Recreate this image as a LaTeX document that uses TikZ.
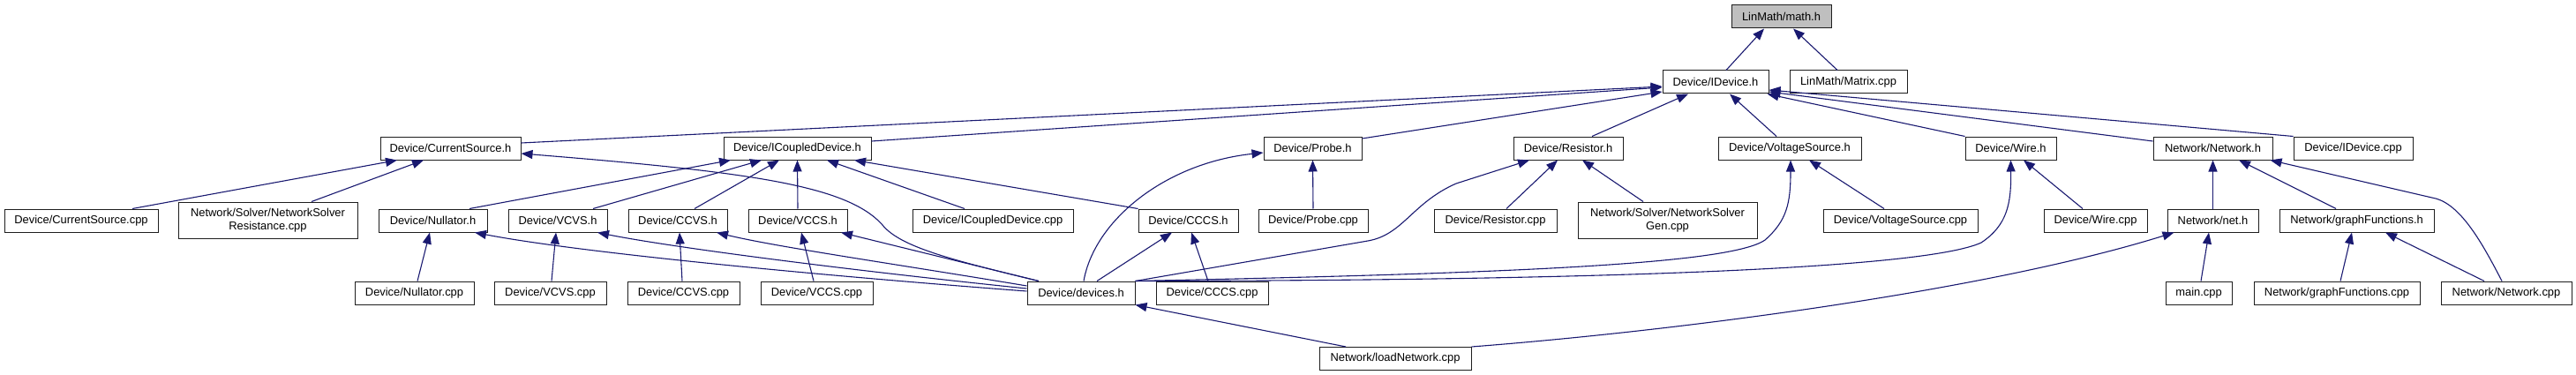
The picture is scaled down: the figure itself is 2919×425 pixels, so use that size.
\documentclass[tikz,border=0pt]{standalone}
\usepackage{fontspec}
\setmainfont{Liberation Sans}
\usetikzlibrary{arrows.meta}
\definecolor{edgecol}{RGB}{25,25,112}
\definecolor{rootfill}{RGB}{191,191,191}
\definecolor{boxline}{RGB}{30,30,30}
\newcommand\doxfont{\fontsize{12.9}{15}\selectfont}
\begin{document}
\begin{tikzpicture}[x=1pt,y=-1pt,
 box/.style={draw=boxline,line width=1pt,fill=white,inner sep=0pt,font=\doxfont,align=center,minimum height=26pt},
 tall/.style={minimum height=41pt},
 edge/.style={draw=edgecol,line width=1.1pt,-{Triangle[length=13pt,width=10pt]}}]
\useasboundingbox (0,0) rectangle (2919,425);
% row 0
\node[box,fill=rootfill,minimum width=113pt] (math) at (2018.5,19) {LinMath/math.h};
% row 1
\node[box,minimum width=120pt] (idev) at (1944,93) {Device/IDevice.h};
\node[box,minimum width=133pt] (matrix) at (2094.5,93) {LinMath/Matrix.cpp};
% row 2
\node[box,minimum width=159pt] (cs) at (510.5,168) {Device/CurrentSource.h};
\node[box,minimum width=167pt] (icd) at (903.5,168) {Device/ICoupledDevice.h};
\node[box,minimum width=111pt] (probe) at (1487.5,168) {Device/Probe.h};
\node[box,minimum width=124pt] (res) at (1777,168) {Device/Resistor.h};
\node[box,minimum width=162pt] (vs) at (2028,168) {Device/VoltageSource.h};
\node[box,minimum width=103pt] (wire) at (2278.5,168) {Device/Wire.h};
\node[box,minimum width=135pt] (netw) at (2507.5,168) {Network/Network.h};
\node[box,minimum width=135pt] (idevcpp) at (2666.5,168) {Device/IDevice.cpp};
% row 3
\node[box,minimum width=174pt] (cscpp) at (92,250) {Device/CurrentSource.cpp};
\node[box,tall,minimum width=203pt] (nsres) at (303.5,249.5) {Network/Solver/NetworkSolver\\Resistance.cpp};
\node[box,minimum width=123pt] (nul) at (490.5,250) {Device/Nullator.h};
\node[box,minimum width=112pt] (vcvs) at (632,250) {Device/VCVS.h};
\node[box,minimum width=112pt] (ccvs) at (768,250) {Device/CCVS.h};
\node[box,minimum width=112pt] (vccs) at (904,250) {Device/VCCS.h};
\node[box,minimum width=182pt] (icdcpp) at (1125,250) {Device/ICoupledDevice.cpp};
\node[box,minimum width=113pt] (ccch) at (1346.5,250) {Device/CCCS.h};
\node[box,minimum width=124pt] (probecpp) at (1488,250) {Device/Probe.cpp};
\node[box,minimum width=139pt] (rescpp) at (1694.5,250) {Device/Resistor.cpp};
\node[box,tall,minimum width=203pt] (nsgen) at (1889.5,249.5) {Network/Solver/NetworkSolver\\Gen.cpp};
\node[box,minimum width=175pt] (vscpp) at (2153.5,250) {Device/VoltageSource.cpp};
\node[box,minimum width=117pt] (wirecpp) at (2374.5,250) {Device/Wire.cpp};
\node[box,minimum width=103pt] (neth) at (2507.5,250) {Network/net.h};
\node[box,minimum width=175pt] (gfh) at (2670.5,250) {Network/graphFunctions.h};
% row 4
\node[box,minimum width=135pt] (nulcpp) at (469.5,332) {Device/Nullator.cpp};
\node[box,minimum width=127pt] (vcvscpp) at (623.5,332) {Device/VCVS.cpp};
\node[box,minimum width=127pt] (ccvscpp) at (774.5,332) {Device/CCVS.cpp};
\node[box,minimum width=127pt] (vccscpp) at (925.5,332) {Device/VCCS.cpp};
\node[box,minimum width=122pt] (dev) at (1225,332) {Device/devices.h};
\node[box,minimum width=127pt] (cccscpp) at (1373.5,332) {Device/CCCS.cpp};
\node[box,minimum width=75pt] (maincpp) at (2491.5,332) {main.cpp};
\node[box,minimum width=188pt] (gfcpp) at (2648,332) {Network/graphFunctions.cpp};
\node[box,minimum width=148pt] (netcpp) at (2840,332) {Network/Network.cpp};
% row 5
\node[box,minimum width=172pt] (load) at (1581,406.5) {Network/loadNetwork.cpp};
% edges to math.h
\draw[edge] ([xshift=12pt]idev.north) -- ([xshift=-19.5pt]math.south);
\draw[edge] ([xshift=-12.5pt]matrix.north) -- ([xshift=13.5pt]math.south);
% edges to IDevice.h
\draw[edge] ([yshift=6pt]cs.east) -- ([yshift=-5pt]idev.west);
\draw[edge] ([yshift=8pt]icd.east) -- ([yshift=-6pt]idev.west);
\draw[edge] ([yshift=11pt]probe.east) -- ([yshift=-11pt]idev.west);
\draw[edge] ([xshift=27pt]res.north) -- ([xshift=-31pt]idev.south);
\draw[edge] ([xshift=-15pt]vs.north) -- ([xshift=16pt]idev.south);
\draw[edge] (wire.north west) -- ([xshift=-2pt]idev.south east);
\draw[edge] ([yshift=8pt]netw.west) -- ([yshift=-11pt]idev.east);
\draw[edge] (idevcpp.north west) -- ([yshift=-9pt]idev.east);
% edges to CurrentSource.h
\draw[edge] ([xshift=58pt]cscpp.north) -- ([xshift=-60.5pt]cs.south);
\draw[edge] ([xshift=49.5pt]nsres.north) -- ([xshift=-30.5pt]cs.south);
\draw[edge] ([xshift=-48pt]dev.north) .. controls (1080,295) and (1020,280) .. (1000,255) .. controls (960,210) and (850,195) .. ([yshift=-6pt]cs.east);
% edges to ICoupledDevice.h
\draw[edge] ([xshift=41.5pt]nul.north) -- ([xshift=-75.5pt]icd.south);
\draw[edge] ([xshift=40pt]vcvs.north) -- ([xshift=-40.5pt]icd.south);
\draw[edge] ([xshift=19pt]ccvs.north) -- ([xshift=-20.5pt]icd.south);
\draw[edge] (vccs.north) -- (icd.south);
\draw[edge] ([xshift=-32pt]icdcpp.north) -- ([xshift=33.5pt]icd.south);
\draw[edge] (ccch.north west) -- ([xshift=64.5pt]icd.south);
% row 3 headers
\draw[edge] ([xshift=3.5pt]nulcpp.north) -- ([xshift=-3.5pt]nul.south);
\draw[edge] ([yshift=2pt]dev.west) .. controls (900,310) and (650,285) .. ([xshift=47.5pt]nul.south);
\draw[edge] ([xshift=1.5pt]vcvscpp.north) -- ([xshift=-2pt]vcvs.south);
\draw[edge] ([yshift=5pt]dev.west) .. controls (950,305) and (760,280) .. ([xshift=45pt]vcvs.south);
\draw[edge] ([xshift=-1.5pt]ccvscpp.north) -- ([xshift=2pt]ccvs.south);
\draw[edge] ([yshift=8pt]dev.west) .. controls (1020,300) and (880,280) .. ([xshift=44pt]ccvs.south);
\draw[edge] ([xshift=-3.5pt]vccscpp.north) -- ([xshift=4pt]vccs.south);
\draw[edge] ([xshift=-48pt]dev.north) -- ([xshift=49pt]vccs.south);
\draw[edge] ([xshift=18pt]dev.north) -- ([xshift=-18.5pt]ccch.south);
\draw[edge] ([xshift=-4.5pt]cccscpp.north) -- ([xshift=3.5pt]ccch.south);
% Probe.h
\draw[edge] ([xshift=3pt]dev.north) .. controls (1240,250) and (1320,185) .. ([yshift=-5pt]probe.west);
\draw[edge] (probecpp.north) -- (probe.south);
% Resistor.h
\draw[edge] (dev.north east) -- (1550,273) .. controls (1590,266) and (1600,230) .. (1650,208) -- ([xshift=-44pt]res.south);
\draw[edge] ([xshift=12.5pt]rescpp.north) -- ([xshift=-12pt]res.south);
\draw[edge] ([xshift=-27.5pt]nsgen.north) -- ([xshift=16pt]res.south);
% VoltageSource.h
\draw[edge] (dev.north east) .. controls (1700,310) and (1960,300) .. (2000,272) .. controls (2025,250) and (2029,230) .. ([xshift=1pt]vs.south);
\draw[edge] ([xshift=-18.5pt]vscpp.north) -- ([xshift=22pt]vs.south);
% Wire.h
\draw[edge] (dev.north east) .. controls (1800,318) and (2180,305) .. (2245,275) .. controls (2275,255) and (2279,230) .. (wire.south);
\draw[edge] ([xshift=-14.5pt]wirecpp.north) -- ([xshift=14.5pt]wire.south);
% Network.h
\draw[edge] (neth.north) -- (netw.south);
\draw[edge] ([xshift=-23.5pt]gfh.north) -- ([xshift=29.5pt]netw.south);
\draw[edge] ([xshift=-5pt]netcpp.north) .. controls (2815,280) and (2790,233) .. (2760,225) -- ([xshift=65pt]netw.south);
% net.h
\draw[edge] ([xshift=2.5pt]maincpp.north) -- ([xshift=-4.5pt]neth.south);
\draw[edge] (load.north east) .. controls (1900,375) and (2250,330) .. ([xshift=-44pt]neth.south);
% devices.h
\draw[edge] ([xshift=-56pt]load.north) -- (dev.south east);
% graphFunctions.h
\draw[edge] ([xshift=4pt]gfcpp.north) -- ([xshift=-5.5pt]gfh.south);
\draw[edge] ([xshift=-25pt]netcpp.north) -- ([xshift=32.5pt]gfh.south);
\end{tikzpicture}
\end{document}
